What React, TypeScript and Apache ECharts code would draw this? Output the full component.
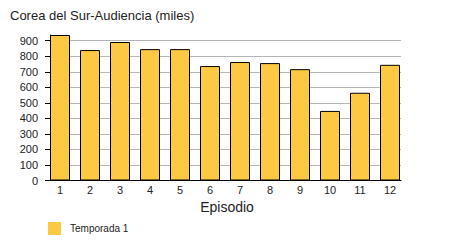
import React, { useEffect, useRef } from "react";
import * as echarts from "echarts";

const titleText = "Corea del Sur-Audiencia (miles)";
const xAxisTitle = "Episodio";
const seriesName = "Temporada 1";
const episodes = ["1", "2", "3", "4", "5", "6", "7", "8", "9", "10", "11", "12"];
const audience = [937, 840, 892, 846, 846, 737, 763, 756, 717, 448, 565, 745];
const yTicks = [0, 100, 200, 300, 400, 500, 600, 700, 800, 900];

const FONT = "Liberation Sans, Arial, Helvetica, sans-serif";
const BAR_COLOR = "#fdc942";

export default function App() {
  const ref = useRef<HTMLDivElement>(null);
  useEffect(() => {
    if (!ref.current) return;
    const chart = echarts.init(ref.current, null, { renderer: "svg" });
    const top = 35;
    const height = 145.5;
    chart.setOption({
      animation: false,
      backgroundColor: "#ffffff",
      title: {
        text: titleText,
        left: 10,
        top: 9,
        padding: 0,
        textStyle: { fontSize: 13, fontWeight: "normal", color: "#222", fontFamily: FONT },
      },
      legend: {
        data: [seriesName],
        left: 48,
        top: 222,
        padding: 0,
        itemWidth: 13,
        itemHeight: 13,
        icon: "rect",
        itemStyle: { borderWidth: 0 },
        textStyle: { fontSize: 10, color: "#222", fontFamily: FONT, padding: [2, 0, 0, 4] },
      },
      grid: [
        { left: 45, width: 360, top, height },
        { left: 50, width: 351, top, height },
      ],
      xAxis: [
        {
          type: "category",
          gridIndex: 0,
          data: episodes,
          axisLine: { show: false },
          axisTick: { show: false },
          axisLabel: { fontSize: 11, color: "#222", fontFamily: FONT, margin: 4 },
          name: xAxisTitle,
          nameLocation: "middle",
          nameGap: 18,
          nameTextStyle: { fontSize: 14, color: "#222", fontFamily: FONT, padding: [0, 0, 0, 4] },
        },
        {
          type: "value",
          gridIndex: 1,
          min: 0,
          max: 1,
          axisLine: { show: true, lineStyle: { color: "#000", width: 1 } },
          axisTick: { show: false },
          axisLabel: { show: false },
          splitLine: { show: false },
        },
      ],
      yAxis: [
        {
          type: "value",
          gridIndex: 0,
          min: 0,
          max: "dataMax",
          show: false,
          splitLine: { show: false },
        },
        {
          type: "value",
          gridIndex: 1,
          min: 0,
          max: Math.max(...audience),
          interval: 100,
          axisLine: { show: true, lineStyle: { color: "#000", width: 1 } },
          axisTick: {
            show: true,
            inside: false,
            length: 5,
            lineStyle: { color: "#000" },
            customValues: yTicks,
          },
          axisLabel: {
            fontSize: 11,
            color: "#222",
            fontFamily: FONT,
            margin: 12,
            customValues: yTicks,
          },
          splitLine: {
            show: true,
            lineStyle: { color: "#b4b4b4", width: 1 },
          },
        },
      ],
      series: [
        {
          name: seriesName,
          type: "bar",
          xAxisIndex: 0,
          yAxisIndex: 0,
          data: audience,
          barWidth: 20,
          itemStyle: { color: BAR_COLOR, borderColor: "#000", borderWidth: 1 },
          z: 5,
        },
      ],
    });
    return () => chart.dispose();
  }, []);
  return (
    <div
      ref={ref}
      style={{ position: "absolute", left: 0, top: 0, width: 450, height: 250 }}
    />
  );
}
